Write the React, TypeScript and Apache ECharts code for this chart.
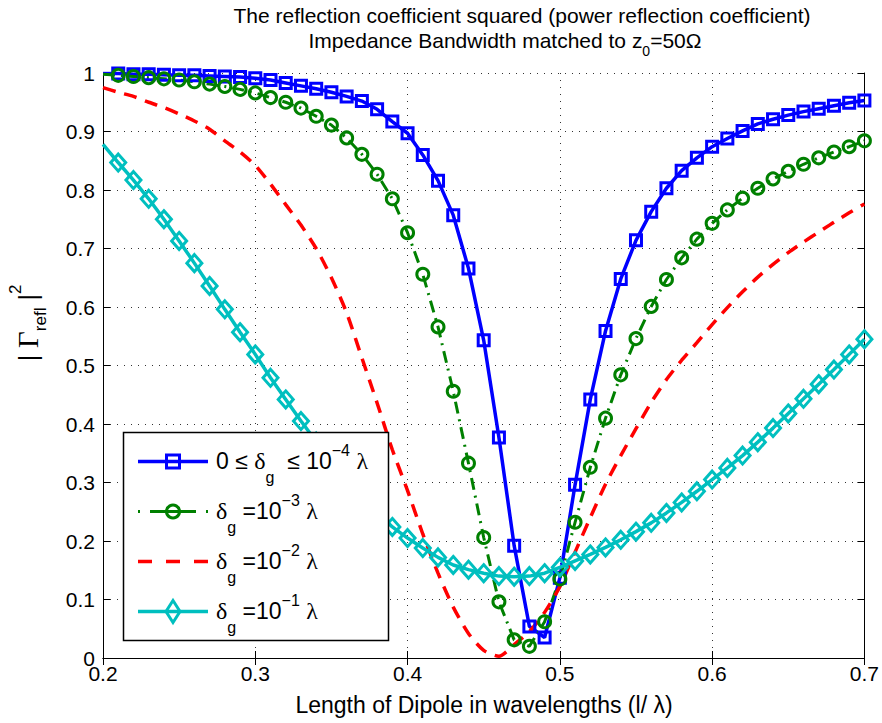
import React, { useEffect, useRef } from 'react';
import * as echarts from 'echarts';

const X = [0.20, 0.21, 0.22, 0.23, 0.24, 0.25, 0.26, 0.27, 0.28, 0.29,
  0.30, 0.31, 0.32, 0.33, 0.34, 0.35, 0.36, 0.37, 0.38, 0.39,
  0.40, 0.41, 0.42, 0.43, 0.44, 0.45, 0.46, 0.47, 0.48, 0.49,
  0.50, 0.51, 0.52, 0.53, 0.54, 0.55, 0.56, 0.57, 0.58, 0.59,
  0.60, 0.61, 0.62, 0.63, 0.64, 0.65, 0.66, 0.67, 0.68, 0.69, 0.70];

// 0 <= delta_g <= 1e-4 lambda
const BLUE = [0.999, 0.999, 0.998, 0.998, 0.997, 0.996, 0.996, 0.995, 0.994, 0.993,
  0.991, 0.988, 0.983, 0.978, 0.973, 0.967, 0.960, 0.952, 0.938, 0.917,
  0.897, 0.860, 0.816, 0.757, 0.666, 0.543, 0.377, 0.192, 0.054, 0.035,
  0.137, 0.296, 0.442, 0.559, 0.648, 0.714, 0.763, 0.803, 0.833, 0.855,
  0.874, 0.888, 0.901, 0.913, 0.921, 0.928, 0.934, 0.939, 0.944, 0.949, 0.953];

// delta_g = 1e-3 lambda
const GREEN = [0.998, 0.996, 0.994, 0.992, 0.990, 0.988, 0.985, 0.981, 0.977, 0.972,
  0.966, 0.958, 0.950, 0.940, 0.926, 0.911, 0.889, 0.861, 0.827, 0.785,
  0.727, 0.656, 0.566, 0.456, 0.333, 0.206, 0.096, 0.031, 0.020, 0.062,
  0.135, 0.232, 0.326, 0.410, 0.484, 0.546, 0.601, 0.647, 0.684, 0.716,
  0.743, 0.766, 0.786, 0.803, 0.819, 0.832, 0.844, 0.855, 0.865, 0.874, 0.884];

// delta_g = 1e-2 lambda
const RED = [0.975, 0.967, 0.960, 0.950, 0.941, 0.930, 0.918, 0.904, 0.884, 0.865,
  0.842, 0.810, 0.775, 0.740, 0.700, 0.650, 0.590, 0.513, 0.436, 0.356,
  0.286, 0.212, 0.145, 0.087, 0.042, 0.013, 0.003, 0.023, 0.045, 0.078,
  0.122, 0.181, 0.240, 0.297, 0.346, 0.392, 0.437, 0.476, 0.509, 0.539,
  0.570, 0.599, 0.626, 0.651, 0.673, 0.693, 0.711, 0.728, 0.745, 0.761, 0.776];

// delta_g = 1e-1 lambda
const CYAN = [0.878, 0.847, 0.817, 0.785, 0.750, 0.713, 0.675, 0.636, 0.596, 0.557,
  0.519, 0.479, 0.442, 0.405, 0.370, 0.337, 0.306, 0.278, 0.250, 0.224,
  0.205, 0.188, 0.172, 0.159, 0.151, 0.145, 0.140, 0.139, 0.140, 0.145,
  0.155, 0.166, 0.177, 0.189, 0.202, 0.216, 0.231, 0.248, 0.266, 0.285,
  0.305, 0.325, 0.346, 0.369, 0.393, 0.418, 0.443, 0.468, 0.493, 0.519, 0.545];

const TITLE_1 = 'The reflection coefficient squared (power reflection coefficient)';
const TITLE_2 = 'Impedance Bandwidth matched to z{sub|0}=50Ω';
const X_NAME = 'Length of Dipole in wavelengths (l/ λ)';
const Y_NAME = '| {G|Γ}{sub|refl} |{sup|2}';
const LEGEND_TEXT = [
  '0 ≤ {gr|δ}{sub|g}  ≤ 10{sup|−4} {gr|λ}',
  '{gr|δ}{sub|g} =10{sup|−3} {gr|λ}',
  '{gr|δ}{sub|g} =10{sup|−2} {gr|λ}',
  '{gr|δ}{sub|g} =10{sup|−1} {gr|λ}',
];

const FONT = 'Liberation Sans, Arial, Helvetica, sans-serif';
const C_BLUE = '#0000ff';
const C_GREEN = '#008000';
const C_RED = '#ff0000';
const C_CYAN = '#00bfbf';

function toData(vals: number[]) {
  return X.map((x, i) => (i === 0 ? { value: [x, vals[i]], symbol: 'none' } : [x, vals[i]]));
}

export default function App() {
  const ref = useRef<HTMLDivElement>(null);
  useEffect(() => {
    const chart = echarts.init(ref.current!, null, { renderer: 'svg' });
    const L = 103, R = 865, T = 73, B = 658;
    const rows = [461.5, 511.5, 561.5, 611.5];
    const legendRich = {
      gr: { fontFamily: 'Liberation Serif, serif', fontSize: 24, lineHeight: 50, verticalAlign: 'middle' },
      sub: { fontSize: 16, verticalAlign: 'bottom' },
      sup: { fontSize: 16, verticalAlign: 'top', padding: [7, 0, 0, 0] },
    };
    const Z = 100;
    const legendEls: any[] = [
      { type: 'rect', z: Z, shape: { x: 123.5, y: 432.5, width: 265, height: 208 }, style: { fill: '#fff', stroke: '#000', lineWidth: 1.5 } },
      { type: 'line', z: Z + 1, shape: { x1: 138, y1: rows[0], x2: 208, y2: rows[0] }, style: { stroke: C_BLUE, lineWidth: 3.5 } },
      { type: 'line', z: Z + 1, shape: { x1: 138, y1: rows[1], x2: 208, y2: rows[1] }, style: { stroke: C_GREEN, lineWidth: 3, lineDash: [2, 10, 46, 10, 2, 100] } },
      { type: 'line', z: Z + 1, shape: { x1: 138, y1: rows[2], x2: 208, y2: rows[2] }, style: { stroke: C_RED, lineWidth: 3.5, lineDash: [14, 14] } },
      { type: 'line', z: Z + 1, shape: { x1: 138, y1: rows[3], x2: 208, y2: rows[3] }, style: { stroke: C_CYAN, lineWidth: 3.5 } },
      { type: 'rect', z: Z + 2, shape: { x: 173 - 6.5, y: rows[0] - 6.5, width: 13, height: 13 }, style: { fill: 'none', stroke: C_BLUE, lineWidth: 3 } },
      { type: 'circle', z: Z + 2, shape: { cx: 173, cy: rows[1], r: 6.5 }, style: { fill: 'none', stroke: C_GREEN, lineWidth: 3 } },
      { type: 'polygon', z: Z + 2, shape: { points: [[173, rows[3] - 11], [180, rows[3]], [173, rows[3] + 11], [166, rows[3]]] }, style: { fill: 'none', stroke: C_CYAN, lineWidth: 3 } },
      ...LEGEND_TEXT.map((t, i) => ({
        type: 'text', z: Z + 3, x: 216, y: rows[i] - 1,
        style: {
          text: t, fontFamily: FONT, fontSize: 23, lineHeight: 50, fill: '#000',
          align: 'left', verticalAlign: 'middle', rich: legendRich,
        },
      })),
    ];

    const option: any = {
      animation: false,
      backgroundColor: '#fff',
      grid: { left: L, right: 882 - R, top: T, bottom: 723 - B, containLabel: false },
      xAxis: [
        {
          type: 'value', min: 0.2, max: 0.7, interval: 0.1,
          axisLine: { show: true, lineStyle: { color: '#000', width: 1 } },
          axisTick: { show: true, inside: true, length: 7, lineStyle: { color: '#000' } },
          axisLabel: { color: '#000', fontFamily: FONT, fontSize: 21, lineHeight: 14, margin: 8, formatter: (v: number) => v.toFixed(1) },
          splitLine: { show: true, lineStyle: { color: '#333', type: [1, 6], width: 1 } },
        },
        {
          type: 'value', min: 0.2, max: 0.7, interval: 0.1, position: 'top',
          axisLine: { show: true, lineStyle: { color: '#000', width: 1 } },
          axisTick: { show: true, inside: true, length: 7, lineStyle: { color: '#000' } },
          axisLabel: { show: false }, splitLine: { show: false },
        },
      ],
      yAxis: [
        {
          type: 'value', min: 0, max: 1, interval: 0.1,
          axisLine: { show: true, lineStyle: { color: '#000', width: 1 } },
          axisTick: { show: true, inside: true, length: 7, lineStyle: { color: '#000' } },
          axisLabel: {
            color: '#000', fontFamily: FONT, fontSize: 21, lineHeight: 14, margin: 8,
            formatter: (v: number) => (v === 0 ? '0' : Math.abs(v - 1) < 1e-9 ? '1' : v.toFixed(1)),
          },
          splitLine: { show: true, lineStyle: { color: '#333', type: [1, 6], width: 1 } },
        },
        {
          type: 'value', min: 0, max: 1, interval: 0.1, position: 'right',
          axisLine: { show: true, lineStyle: { color: '#000', width: 1 } },
          axisTick: { show: true, inside: true, length: 7, lineStyle: { color: '#000' } },
          axisLabel: { show: false }, splitLine: { show: false },
        },
      ],
      series: [
        {
          name: 'blue', type: 'line', silent: true, data: toData(BLUE),
          symbol: 'rect', symbolSize: 11,
          lineStyle: { color: C_BLUE, width: 3.5 },
          itemStyle: { color: 'rgba(255,255,255,0)', borderColor: C_BLUE, borderWidth: 3 },
        },
        {
          name: 'green', type: 'line', silent: true, data: toData(GREEN),
          symbol: 'circle', symbolSize: 12,
          lineStyle: { color: C_GREEN, width: 3, type: [12, 6, 2, 6] },
          itemStyle: { color: 'rgba(255,255,255,0)', borderColor: C_GREEN, borderWidth: 3 },
        },
        {
          name: 'red', type: 'line', silent: true, data: toData(RED),
          symbol: 'none', showSymbol: false, smooth: 0.25,
          lineStyle: { color: C_RED, width: 3.5, type: [13, 9] },
          itemStyle: { color: C_RED },
        },
        {
          name: 'cyan', type: 'line', silent: true, data: toData(CYAN),
          symbol: 'diamond', symbolSize: [15, 17],
          lineStyle: { color: C_CYAN, width: 3.5 },
          itemStyle: { color: 'rgba(255,255,255,0)', borderColor: C_CYAN, borderWidth: 3 },
        },
      ],
      graphic: [
        {
          type: 'text', x: 522, y: 15,
          style: { text: TITLE_1, fontFamily: FONT, fontSize: 21, fill: '#000', align: 'center', verticalAlign: 'middle' },
        },
        {
          type: 'text', x: 505, y: 40,
          style: {
            text: TITLE_2, fontFamily: FONT, fontSize: 21, lineHeight: 36, fill: '#000', align: 'center', verticalAlign: 'middle',
            rich: { sub: { fontSize: 14, verticalAlign: 'bottom' } },
          },
        },
        {
          type: 'text', x: 484, y: 705,
          style: { text: X_NAME, fontFamily: FONT, fontSize: 23, fill: '#000', align: 'center', verticalAlign: 'middle' },
        },
        {
          type: 'text', x: 28, y: 323, rotation: Math.PI / 2,
          style: {
            text: Y_NAME, fontFamily: FONT, fontSize: 25, lineHeight: 42, fill: '#000', align: 'center', verticalAlign: 'middle',
            rich: {
              G: { fontFamily: 'Liberation Serif, serif', fontSize: 29, lineHeight: 42, verticalAlign: 'middle' },
              sub: { fontSize: 17, verticalAlign: 'bottom' },
              sup: { fontSize: 17, verticalAlign: 'top' },
            },
          },
        },
        ...legendEls,
      ],
    };
    chart.setOption(option);
    return () => chart.dispose();
  }, []);
  return <div ref={ref} style={{ position: 'fixed', left: 0, top: 0, width: 882, height: 723, background: '#fff' }} />;
}
